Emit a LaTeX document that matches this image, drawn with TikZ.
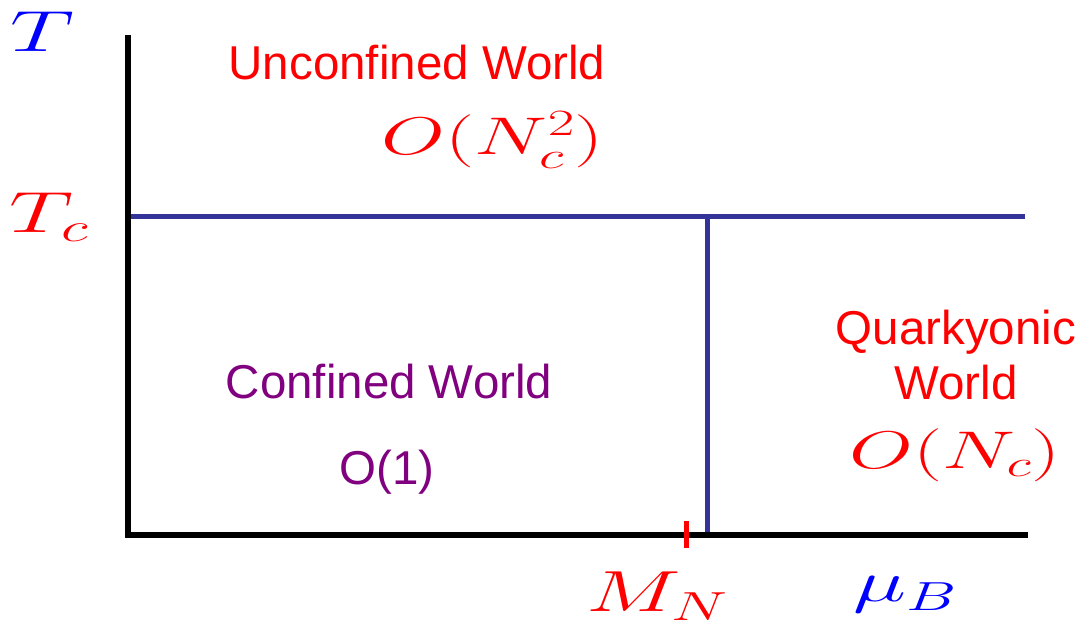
\RequirePackage{fix-cm}
\documentclass[tikz,border=0pt]{standalone}
\usepackage{fontspec}
\setsansfont{Liberation Sans}
\usepackage{graphicx}
\usepackage{xcolor}
\usepackage{tikz}
\usetikzlibrary{positioning}
\definecolor{axisink}{HTML}{000000}
\definecolor{border}{HTML}{333399}
\definecolor{hot}{HTML}{FF0000}
\definecolor{cold}{HTML}{800080}
\definecolor{var}{HTML}{0000FF}
\newcommand{\mathwide}[1]{\scalebox{1.55}[1]{$#1$}}
\tikzset{
  axis/.style     = {draw=axisink, line width=6pt, line cap=rect},
  phaseline/.style= {draw=border, line width=5pt},
  tick/.style     = {draw=hot, line width=5pt},
  world/.style    = {font=\fontsize{47.5}{55}\selectfont\sffamily, inner sep=0pt, outer sep=0pt, align=center},
  order/.style    = {font=\fontsize{53}{56}\selectfont, inner sep=0pt, outer sep=0pt},
  axlab/.style    = {font=\fontsize{58}{62}\selectfont, inner sep=0pt, outer sep=0pt},
}
\begin{document}
\begin{tikzpicture}[x=1pt,y=1pt]
\path[use as bounding box] (0,0) rectangle (1078,630);

% ---- axes and phase borders ---------------------------------------------
\coordinate (orig) at (128,95);
\coordinate (ytop) at (128,592);
\coordinate (xend) at (1025,95);
\coordinate (tcl)  at (128,413);
\coordinate (tcr)  at (1025,413);
\coordinate (qtop) at (707,413);
\coordinate (qbot) at (707,95);
\coordinate (mnup) at (686,109);
\coordinate (mndn) at (686,82);

\draw[phaseline] (tcl) -- (tcr);
\draw[phaseline] (qtop) -- (qbot);
\draw[axis] (ytop) -- (orig) -- (xend);
\draw[tick] (mnup) -- (mndn);

% ---- axis labels --------------------------------------------------------
\node[axlab, text=var] (tlab)  at (42,598) {\mathwide{T}};
\node[axlab, text=hot] (tclab) at (49,413) {\mathwide{T_c}};
\node[axlab, text=hot] (mnlab) at (657,34) {\mathwide{M_N}};
\node[axlab, text=var] (mulab) at (905,35) {\mathwide{\mu_B}};

% ---- the three worlds ---------------------------------------------------
\node[world, text=hot]  (unconf)  at (417,567) {Unconfined World};
\node[order, text=hot]  (unconfo) at (493,490) {\mathwide{O(N_c^2)}};
\node[world, text=cold] (conf)    at (389,248) {Confined World};
\node[world, text=cold] (confo)   at (387,158) {O(1)};
\node[world, text=hot]  (quark)   at (956,275) {Quarkyonic\\World};
\node[order, text=hot]  (quarko)  at (955,175) {\mathwide{O(N_c)}};

\end{tikzpicture}
\end{document}
